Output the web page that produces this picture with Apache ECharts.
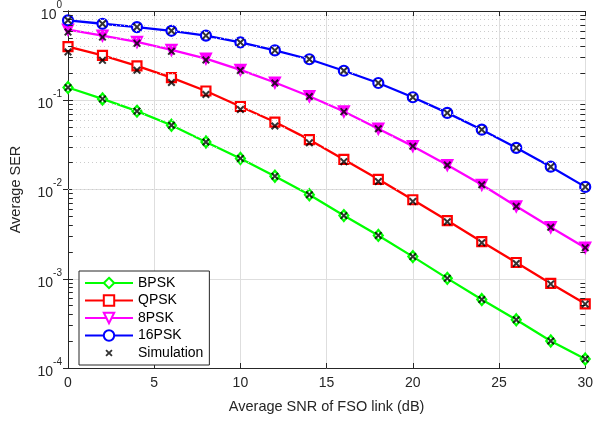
<!DOCTYPE html>
<html>
<head>
<meta charset="utf-8">
<script src="https://cdn.jsdelivr.net/npm/echarts@6/dist/echarts.min.js"></script>
<style>html,body{margin:0;padding:0;background:#fff}#c{width:596px;height:421px}</style>
</head>
<body>
<div id="c"></div>
<script>
const snr = [0,2,4,6,8,10,12,14,16,18,20,22,24,26,28,30];
const bpsk = [0.139,0.1035,0.0755,0.0524,0.0341,0.0223,0.0141,0.00873,0.0051,0.00306,0.00177,0.00101,0.000585,0.000347,0.000201,0.000126];
const qpsk = [0.398,0.319,0.243,0.179,0.127,0.0851,0.057,0.0362,0.0217,0.013,0.00768,0.00449,0.0026,0.00152,0.000887,0.000524];
const psk8 = [0.62,0.53,0.45,0.366,0.293,0.219,0.158,0.111,0.0749,0.048,0.0306,0.0188,0.0113,0.00648,0.00378,0.00223];
const psk16 = [0.787,0.72,0.66,0.60,0.53,0.445,0.362,0.288,0.214,0.156,0.108,0.0722,0.0468,0.0293,0.018,0.0107];
const simBPSK = [0.139,0.1035,0.0755,0.0524,0.0341,0.0223,0.0141,0.00873,0.0051,0.00306,0.00177,0.00101,0.000585,0.000347,0.000201,0.000126];
const simQPSK = [0.348,0.28,0.217,0.158,0.116,0.0787,0.0514,0.0333,0.0205,0.0123,0.00736,0.00435,0.00253,0.00148,0.000875,0.00052];
const sim8PSK = [0.58,0.51,0.434,0.353,0.283,0.216,0.156,0.11,0.0745,0.048,0.0306,0.0188,0.0113,0.00648,0.00378,0.00223];
const sim16PSK = [0.787,0.72,0.66,0.60,0.53,0.445,0.362,0.288,0.214,0.156,0.108,0.0722,0.0468,0.0293,0.018,0.0107];
const xTicks = [0,5,10,15,20,25,30];
const decades = [-4,-3,-2,-1];

const pts = a => snr.map((x,i)=>[x,a[i]]);
const minorVals = [];
decades.forEach(d=>{for(let k=2;k<=9;k++) minorVals.push(k*Math.pow(10,d));});

const font = 'Liberation Sans, Arial, Helvetica, sans-serif';
const axisCol = '#262626';
const xBody = 'M0,1.8L1.8,0L5,3.2L8.2,0L10,1.8L6.8,5L10,8.2L8.2,10L5,6.8L1.8,10L0,8.2L3.2,5Z';
const xPath = 'path://' + xBody;
const xPathLegend = 'path://M-4,-4M14,14M' + xBody.slice(1);

function lineSeries(name, data, color, symbol, size, fill){
  return {name, type:'line', data:pts(data), symbol, symbolSize:size, showSymbol:true,
    lineStyle:{color, width:2.3}, itemStyle:{color:fill, borderColor:color, borderWidth:2.2},
    emphasis:{disabled:true}, animation:false, z:3};
}

const simData = [].concat(pts(simBPSK), pts(simQPSK), pts(sim8PSK), pts(sim16PSK));

const gridMark = minorVals.map(v=>({yAxis:v}));
const tickMarks = [];
minorVals.forEach(v=>{
  tickMarks.push([{coord:[0,v]},{coord:[0.28,v]}]);
  tickMarks.push([{coord:[29.72,v]},{coord:[30,v]}]);
});

const chart = echarts.init(document.getElementById('c'), null, {renderer:'canvas'});
chart.setOption({
  animation:false,
  backgroundColor:'#fff',
  grid:{left:66, right:9, top:8, bottom:53, containLabel:false},
  xAxis:[{
    type:'value', min:0, max:30, interval:5,
    name:'Average SNR of FSO link (dB)', nameLocation:'middle', nameGap:31,
    nameTextStyle:{fontFamily:font, fontSize:14.5, color:axisCol},
    axisLine:{lineStyle:{color:axisCol, width:1}},
    axisTick:{inside:true, length:5, lineStyle:{color:axisCol}},
    axisLabel:{fontFamily:font, fontSize:14, color:axisCol, margin:8},
    splitLine:{show:true, lineStyle:{color:'#dedede', width:1}}
  },{
    type:'value', min:0, max:30, interval:5, position:'top',
    axisLine:{show:true, lineStyle:{color:axisCol, width:1}},
    axisTick:{show:true, inside:true, length:5, lineStyle:{color:axisCol}},
    axisLabel:{show:false}, splitLine:{show:false}
  }],
  yAxis:[{
    type:'log', logBase:10, min:1e-4, max:1,
    name:'Average SER', nameLocation:'middle', nameGap:45,
    nameTextStyle:{fontFamily:font, fontSize:14.5, color:axisCol},
    axisLine:{show:true, lineStyle:{color:axisCol, width:1}},
    axisTick:{show:true, inside:true, length:5, lineStyle:{color:axisCol}},
    axisLabel:{
      margin:6,
      formatter: v => '{b|10}{s|' + Math.round(Math.log10(v)) + '}',
      rich:{
        b:{fontFamily:font, fontSize:14, color:axisCol, padding:[8,0,0,0]},
        s:{fontFamily:font, fontSize:10, color:axisCol, verticalAlign:'top', padding:[0,0,8,0]}
      }
    },
    splitLine:{show:true, lineStyle:{color:'#dedede', width:1}}
  },{
    type:'log', logBase:10, min:1e-4, max:1, position:'right',
    axisLine:{show:true, lineStyle:{color:axisCol, width:1}},
    axisTick:{show:true, inside:true, length:5, lineStyle:{color:axisCol}},
    axisLabel:{show:false}, splitLine:{show:false}
  }],
  legend:{
    orient:'vertical', left:79, top:271,
    itemWidth:48, itemHeight:13, itemGap:3.5,
    padding:[5,6,5,5],
    borderColor:axisCol, borderWidth:1, backgroundColor:'#fff',
    textStyle:{fontFamily:font, fontSize:14, color:'#000'},
    data:[
      {name:'BPSK', itemStyle:{color:'#fff'}},
      {name:'QPSK', itemStyle:{color:'#fff'}},
      {name:'8PSK', itemStyle:{color:'#fff'}},
      {name:'16PSK', itemStyle:{color:'#fff'}},
      {name:'Simulation', icon:xPathLegend}
    ]
  },
  series:[
    {name:'grid', type:'line', data:[], silent:true, z:1,
      markLine:{silent:true, symbol:'none', label:{show:false}, animation:false,
        lineStyle:{color:'#cccccc', type:[1,3], width:1}, data:gridMark}},
    {name:'ticks', type:'line', data:[], silent:true, z:2,
      markLine:{silent:true, symbol:'none', label:{show:false}, animation:false,
        lineStyle:{color:axisCol, type:'solid', width:1}, data:tickMarks}},
    lineSeries('BPSK', bpsk, '#00ff00', 'diamond', [9,11], '#fff'),
    lineSeries('QPSK', qpsk, '#ff0000', 'rect', 9, '#fff'),
    lineSeries('8PSK', psk8, '#ff00ff', 'path://M0,0L10,0L5,9Z', 10, '#ff00ff'),
    lineSeries('16PSK', psk16, '#0000ff', 'circle', 10, '#fff'),
    {name:'Simulation', type:'scatter', data:simData, symbol:xPath, symbolSize:8,
      itemStyle:{color:'#000'}, emphasis:{disabled:true}, z:5}
  ]
});
</script>
</body>
</html>
